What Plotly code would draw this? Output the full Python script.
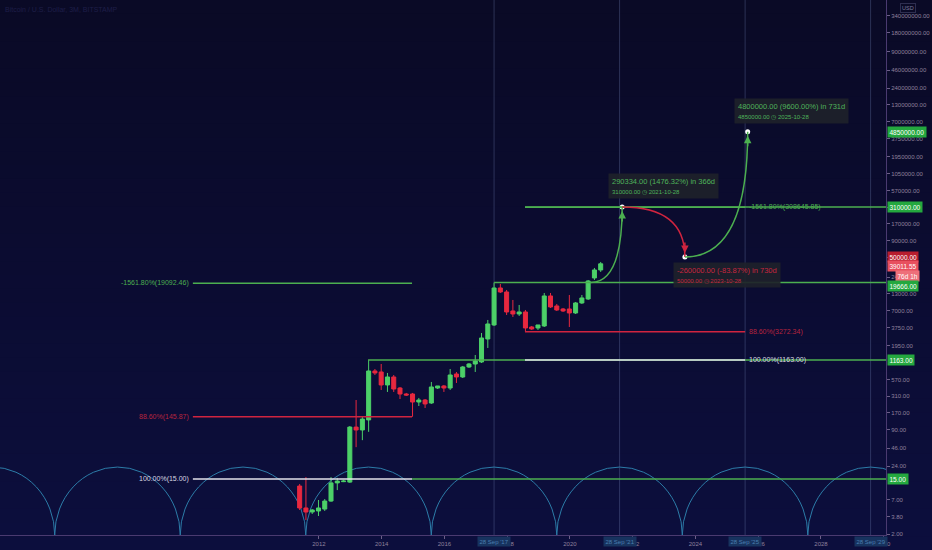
import math
import numpy as np
import pandas as pd
import plotly.graph_objects as go

FONT = "Liberation Sans, Arial, sans-serif"

# ---------------- data ----------------
bar_anchor = "2017-09-28"      # start date of the bar that made the 19666 top
bar_anchor_index = 31
bar_days = 73
opens = [11.6, 5.2, 4.49, 4.66, 5.0, 6.7, 13.0, 13.6, 13.4, 100, 90, 130, 777, 749, 466, 624, 417,
         335, 335, 250, 269, 241, 417, 449, 417, 696, 624, 899, 1003, 1080, 2502, 4174, 16137,
         13942, 6963, 6239, 6713, 3879, 3741, 4024, 12049, 8358, 7491, 7491, 6471, 9328, 10796,
         23257, 31164]
highs = [12.5, 16.1, 5.0, 6.96, 7.2, 16.1, 15.6, 14.5, 104, 269, 145, 1163, 836, 1003, 722, 671, 433,
         348, 348, 290, 279, 520, 449, 466, 836, 749, 933, 1041, 1394, 3116, 5012, 19666, 18680,
         15000, 10409, 8670, 7221, 4024, 4024, 13442, 13442, 8993, 7770, 12494, 9674, 12494, 21615,
         33525, 41739]
lows = [4.83, 3.35, 4.17, 3.88, 4.66, 6.5, 10.0, 13.4, 13.0, 48, 62, 84, 671, 388, 361, 361, 279,
        312, 146, 216, 201, 233, 402, 361, 388, 501, 601, 867, 749, 1041, 1801, 4024, 13442,
        6016, 5592, 5799, 3231, 3477, 3477, 3879, 7770, 6963, 6713, 3879, 6239, 8993, 10409,
        21615, 28960]
closes = [5.2, 4.49, 4.83, 5.2, 6.7, 13.0, 13.9, 13.9, 100, 90, 134, 777, 722, 466, 624, 402, 335,
          323, 250, 269, 233, 433, 449, 417, 671, 624, 899, 1003, 1120, 2595, 4329, 16137, 13942,
          6713, 6239, 6713, 3741, 3606, 4174, 12049, 8061, 7221, 6963, 6471, 9328, 11198, 20840,
          31164, 39011.55]

# Fibonacci tool A (2013 cycle) and B (2017 cycle)
fibA_levels = [19092.46, 145.87, 15.00]
fibA_labels = ["-1561.80%(19092.46)", "88.60%(145.87)", "100.00%(15.00)"]
fibA_span = ["2008-02-22", "2015-02-16"]
fibB_levels = [308645.85, 3272.34, 1163.00]
fibB_labels = ["-1561.80%(308645.85)", "88.60%(3272.34)", "100.00%(1163.00)"]
fibB_span = ["2018-09-23", "2025-09-28"]

# horizontal rays (price, start date)
ray_prices = [310000, 19666, 1163, 15]
ray_starts = ["2018-09-23", "2017-09-28", "2013-09-22", "2015-02-16"]

# projection path
proj_dates = ["2020-10-27", "2021-10-28", "2023-10-28", "2025-10-28"]
proj_prices = [19666, 310000, 50000, 4850000]
proj_text1 = ["290334.00 (1476.32%) in 366d", "-260000.00 (-83.87%) in 730d", "4800000.00 (9600.00%) in 731d"]
proj_text2 = ["310000.00 \u25f7 2021-10-28", "50000.00 \u25f7 2023-10-28", "4850000.00 \u25f7 2025-10-28"]

# cycle lines / arcs (28 Sep every 4 years)
cycle_years = [2001, 2005, 2009, 2013, 2017, 2021, 2025, 2029]
vline_years = [2017, 2021, 2025, 2029]

# right axis (values hidden under the coloured price labels are left out)
tick_vals = [2, 3.8, 7, 24, 46, 90, 170, 310, 570, 1950, 3750, 7000, 13000, 24000,
             50000, 90000, 170000, 310000, 570000, 1050000, 1950000, 3750000, 7000000,
             13000000, 24000000, 46000000, 90000000, 180000000, 340000000]
year_ticks = list(range(2012, 2031, 2))

X_RANGE = ["2001-12-30", "2030-03-26"]
Y_RANGE = [1.937, 6.0e8]

# ---------------- styles ----------------
GREEN = "#4caf50"
CANDLE_UP = "#4cd068"
CANDLE_DN = "#e8283f"
RED = "#d0243f"
WHITE = "#e2e2ea"
ARC = "#2c7ca8"

n = len(opens)
dates = pd.Timestamp(bar_anchor) + pd.to_timedelta((np.arange(n) - bar_anchor_index) * bar_days, unit="D")

fig = go.Figure()
fig.add_trace(go.Candlestick(
    x=dates, open=opens, high=highs, low=lows, close=closes,
    increasing=dict(line=dict(color=CANDLE_UP, width=1), fillcolor=CANDLE_UP),
    decreasing=dict(line=dict(color=CANDLE_DN, width=1), fillcolor=CANDLE_DN),
    whiskerwidth=0, showlegend=False, hoverinfo="skip"))

fig.add_trace(go.Scatter(
    x=proj_dates[1:], y=proj_prices[1:], mode="markers",
    marker=dict(color="white", size=5), showlegend=False, hoverinfo="skip"))

shapes = []
# background gradient
nb = 40
top_c = np.array([10, 10, 38])
bot_c = np.array([13, 15, 62])
ylo_p = -15 / 535
for i in range(nb):
    t = (i + 0.5) / nb
    c = (top_c + (bot_c - top_c) * t).astype(int)
    y1 = 1 - (1 - ylo_p) * i / nb
    y0 = 1 - (1 - ylo_p) * (i + 1) / nb
    shapes.append(dict(type="rect", xref="paper", yref="paper", x0=-0.01, x1=1.07,
                       y0=y0 - 0.002, y1=y1, line=dict(width=0),
                       fillcolor=f"rgb({c[0]},{c[1]},{c[2]})", layer="below"))

# cycle arcs
for cy in cycle_years:
    shapes.append(dict(type="circle", xref="x", yref="y",
                       x0=f"{cy-2}-09-28", x1=f"{cy+2}-09-28", y0=0.1614, y1=23.2,
                       line=dict(color=ARC, width=1), layer="below"))
# vertical cycle lines
for vy in vline_years:
    shapes.append(dict(type="line", xref="x", yref="paper", x0=f"{vy}-09-28", x1=f"{vy}-09-28",
                       y0=0, y1=1, line=dict(color="rgba(110,125,175,0.35)", width=1), layer="below"))

# rays
for p, s in zip(ray_prices, ray_starts):
    shapes.append(dict(type="line", xref="x", yref="y", x0=s, x1=X_RANGE[1], y0=p, y1=p,
                       line=dict(color=GREEN, width=1.5), layer="above"))
# fib levels
fib_cols = [GREEN, RED, WHITE]
for lev, col in zip(fibA_levels, fib_cols):
    shapes.append(dict(type="line", xref="x", yref="y", x0=fibA_span[0], x1=fibA_span[1], y0=lev, y1=lev,
                       line=dict(color=col, width=1.5), layer="above"))
for lev, col in zip(fibB_levels, fib_cols):
    shapes.append(dict(type="line", xref="x", yref="y", x0=fibB_span[0], x1=fibB_span[1], y0=lev, y1=lev,
                       line=dict(color=col, width=1.5), layer="above"))

# projection curves (quadratic, control at end-date / start-price)
curve_cols = [GREEN, RED, GREEN]
for i in range(3):
    d0, p0 = proj_dates[i], proj_prices[i]
    d1, p1 = proj_dates[i + 1], proj_prices[i + 1]
    path = f"M{d0},{p0} Q{d1},{p0} {d1},{p1}"
    shapes.append(dict(type="path", xref="x", yref="y", path=path,
                       line=dict(color=curve_cols[i], width=1.5), layer="above"))

ann = []
# arrowheads
for i in range(3):
    up = proj_prices[i + 1] > proj_prices[i]
    ann.append(dict(x=proj_dates[i + 1], y=math.log10(proj_prices[i + 1]), xref="x", yref="y",
                    ax=0, ay=16 if up else -16, showarrow=True, arrowhead=2, arrowsize=1,
                    arrowwidth=1.5, arrowcolor=curve_cols[i], standoff=4, text=""))
# projection boxes
box_cols = ["#4fb35a", "#c8263f", "#4fb35a"]
for i in range(3):
    up = proj_prices[i + 1] > proj_prices[i]
    ann.append(dict(x=proj_dates[i + 1], y=math.log10(proj_prices[i + 1]), xref="x", yref="y",
                    xanchor="left", yanchor="bottom" if up else "top",
                    xshift=-14 if up else -12, yshift=8 if up else -5,
                    text=f"{proj_text1[i]}<br><span style='font-size:6px'>{proj_text2[i]}</span>",
                    showarrow=False, align="left", bgcolor="rgba(30,34,42,0.92)", borderpad=3,
                    font=dict(family=FONT, size=7.5, color=box_cols[i])))
# fib labels
txt_cols = ["#4caf50", "#b8243e", "#d8d8e2"]
for lev, lab, col in zip(fibA_levels, fibA_labels, txt_cols):
    ann.append(dict(x=fibA_span[0], y=math.log10(lev), xref="x", yref="y", xanchor="right",
                    xshift=-2, text=lab, showarrow=False, font=dict(family=FONT, size=7, color=col)))
for lev, lab, col in zip(fibB_levels, fibB_labels, txt_cols):
    ann.append(dict(x=fibB_span[1], y=math.log10(lev), xref="x", yref="y", xanchor="left",
                    xshift=2, text=lab, showarrow=False, font=dict(family=FONT, size=7, color=col)))

# right axis price labels
def axis_label(val, text, bg, yshift=0, xshift=1):
    return dict(xref="paper", x=1, xanchor="left", xshift=xshift, yref="y", y=math.log10(val),
                yanchor="middle", yshift=yshift, text=text, showarrow=False, bgcolor=bg,
                borderpad=1.5, font=dict(family=FONT, size=6.5, color="white"))

ann += [
    axis_label(4850000, "4850000.00", "#24a83f"),
    axis_label(310000, "310000.00", "#24a83f"),
    axis_label(50000, "50000.00", "#b81d2e"),
    axis_label(39011.55, "39011.55", "#e8505f", yshift=-2),
    axis_label(39011.55, "76d 1h", "#ee6f7a", yshift=-12, xshift=9),
    axis_label(19666, "19666.00", "#24a83f", yshift=-3),
    axis_label(1163, "1163.00", "#24a83f"),
    axis_label(15, "15.00", "#24a83f"),
]
# USD label
ann.append(dict(xref="paper", yref="paper", x=1, y=1, xanchor="left", yanchor="top", xshift=14,
                yshift=-3, text="USD", showarrow=False, bordercolor="#2e2e50", borderwidth=1,
                borderpad=1, font=dict(family=FONT, size=5.5, color="#7d7d9a")))
# cycle date boxes on time axis
for vy in vline_years:
    ann.append(dict(xref="x", yref="paper", x=f"{vy}-09-28", y=0, yanchor="top", yshift=-1,
                    text=f"28 Sep '{str(vy)[2:]}", showarrow=False, bgcolor="#17335f", borderpad=1.5,
                    font=dict(family=FONT, size=6, color="#4a7eb0")))
# dim title
ann.append(dict(xref="paper", yref="paper", x=0.003, y=1, xanchor="left", yanchor="top", yshift=-4,
                text="Bitcoin / U.S. Dollar, 3M, BITSTAMP", showarrow=False,
                font=dict(family=FONT, size=7, color="#1e1e48")))

fig.update_layout(
    width=932, height=550,
    margin=dict(l=0, r=46, t=0, b=15),
    paper_bgcolor="#0b0b2e", plot_bgcolor="rgba(0,0,0,0)",
    shapes=shapes, annotations=ann, showlegend=False,
    boxgap=0.36, boxgroupgap=0, hovermode=False,
    xaxis=dict(type="date", range=X_RANGE, showgrid=False, zeroline=False,
               rangeslider=dict(visible=False), automargin=False,
               tickvals=[f"{y}-02-28" for y in year_ticks], ticktext=[str(y) for y in year_ticks],
               ticks="outside", ticklen=3, tickcolor="#6b5f86",
               tickfont=dict(family=FONT, size=6, color="#8f819c"),
               showline=True, linecolor="#4a3a70", linewidth=1),
    yaxis=dict(type="log", side="right", range=[math.log10(Y_RANGE[0]), math.log10(Y_RANGE[1])],
               showgrid=False, zeroline=False, automargin=False,
               tickvals=tick_vals, ticktext=[f"{v:.2f}" for v in tick_vals],
               ticks="outside", ticklen=3, tickcolor="#6b5f86",
               tickfont=dict(family=FONT, size=6, color="#8f819c"),
               showline=True, linecolor="#4a3a70", linewidth=1),
)

fig.write_html("out.html", config={"displayModeBar": False},
               post_script="document.body.style.margin='0';document.body.style.background='#0b0b2e';")
